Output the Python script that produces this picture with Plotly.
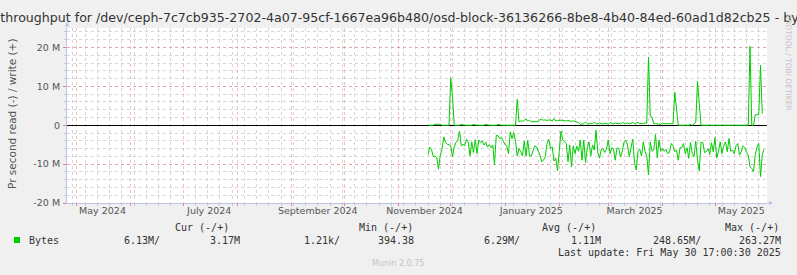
import plotly.graph_objects as go
import pandas as pd

# ---- data (values in MB/s, read shown negative, write positive) ----
start_day = "2024-11-18"

read_mb = [
    7.5, 5.6, 6.2, 8.1, 7.9, 8.4, 11.3, 7.7, 6.2, 3.0,
    4.4, 4.9, 5.0, 5.3, 8.1, 5.6, 4.4, 3.8, 1.5, 5.3,
    4.9, 5.3, 3.6, 4.4, 7.9, 4.3, 7.0, 3.7, 7.3, 3.8,
    4.4, 4.1, 5.1, 4.4, 5.6, 5.0, 5.8, 5.1, 10.1, 2.6,
    2.7, 3.4, 3.2, 4.1, 5.0, 5.3, 7.3, 1.7, 3.4, 1.9,
    4.1, 7.9, 6.0, 6.8, 7.9, 4.1, 7.9, 3.9, 7.9, 7.9,
    6.7, 5.3, 5.6, 6.7,
    7.7, 9.4, 9.0, 8.1, 4.7, 3.6, 6.0, 5.6, 9.2, 8.5,
    11.7, 6.8, 1.5, 3.8, 4.3, 4.7, 9.4, 5.1, 10.7, 5.3,
    7.3, 5.4, 6.7, 3.8, 9.0, 3.8, 9.6, 5.8, 4.3, 7.9,
    5.1, 6.4, 1.3, 7.0, 8.5, 6.2, 6.0, 7.0, 6.2, 3.8,
    7.3, 5.8, 6.2, 9.0, 5.8, 6.0, 8.1, 6.8, 4.3, 3.8,
    5.1, 8.1, 5.8, 3.6, 9.6, 11.5, 6.7, 6.2, 7.9, 4.3,
    6.7, 7.9, 12.8, 4.3, 6.7,
    6.4, 2.4, 8.4, 3.8, 6.7, 6.0, 6.7, 6.2, 7.3, 7.0,
    4.7, 5.3, 6.8, 6.4, 9.0, 5.8, 5.8, 4.7, 7.3, 5.8,
    8.5, 4.4, 7.3, 8.1, 4.1, 9.0, 11.7, 4.4, 4.4, 7.0,
    6.8, 6.0, 7.5, 4.5, 6.8, 3.2, 8.4, 6.7, 4.3, 7.3,
    5.3, 4.3, 6.8, 3.4, 6.7, 6.4, 7.3, 5.3, 4.7, 7.7,
    6.8, 5.3, 5.8, 7.0, 7.7, 10.7, 11.1, 12.0, 7.7, 5.6,
    4.7, 13.2, 7.7, 6.2,
]

write_mb = [
    0, 0, 0, 0, 0.25, 0.25, 0.25, 0.25, 0, 0,
    0, 0, 0, 12.1, 7.3, 0, 0, 0, 0, 0.2,
    0, 0, 0, 0, 0, 0, 0.2, 0, 0, 0,
    0, 0, 0, 0.2, 0, 0, 0, 0, 0, 0,
    0.2, 0, 0, 0, 0, 0, 0, 0, 0, 0,
    0, 6.7, 0.9, 1.1, 1.0, 1.3, 1.5, 1.1, 1.3, 0.9,
    0.9, 0.9, 0.9, 0.9,
    1.5, 1.3, 1.3, 1.4, 1.2, 1.4, 1.2, 1.1, 1.7, 1.1,
    1.2, 1.3, 1.3, 1.2, 1.1, 1.1, 1.2, 1.1, 1.0, 1.1,
    0.9, 0.8, 0.7,
    0.2, 0.3, 0.4, 0.8, 0.4, 0.3, 0.5, 0.4, 0.8, 0.4,
    0.3, 0.6, 0.4, 0.3, 0.5, 0.4, 0.3, 0.7, 0.4, 0.3,
    0.6, 0.4, 0.5, 0.3, 0.7, 0.5, 0.4, 0.6, 0.3, 0.5,
    0.7, 0.4, 0.5, 0.8, 0.4, 0.5, 0.4, 0.6, 0.5,
    17.5, 2.4, 2.1,
    0.4, 0.4, 0.4, 0.3, 0.2, 0.6, 0.4, 0.4, 0.4, 0.4,
    0.4, 0.4, 8.5, 4.4, 0, 0, 0, 0, 0, 0,
    0, 0.2, 0, 0.3, 0.8, 11.3, 5.1, 0, 0, 0,
    0, 0, 0, 0, 0, 0, 0, 0, 0, 0,
    0, 0, 0, 0, 0, 0, 0, 0, 0, 0,
    0, 0, 0, 0, 0, 20.3, 0, 0, 2.7, 2.7,
    2.7, 15.4, 3.0,
]

x_range = ["2024-04-25 17:00", "2025-05-30 17:00"]
y_range = [-20e6, 25e6]
y_tick_vals = [-20e6, -10e6, 0, 10e6, 20e6]
y_tick_text = ["-20 M", "-10 M", "0", "10 M", "20 M"]
x_label_vals = ["2024-05-16", "2024-07-16", "2024-09-16", "2024-11-16",
                "2025-01-16", "2025-03-16", "2025-05-16"]
x_label_text = ["May 2024", "July 2024", "September 2024", "November 2024",
                "January 2025", "March 2025", "May 2025"]

title = ("Disk throughput for /dev/ceph-7c7cb935-2702-4a07-95cf-1667ea96b480/"
         "osd-block-36136266-8be8-4b40-84ed-60ad1d82cb25 - by year")
y_title = "Pr second read (-) / write (+)"
headers = ["Cur (-/+)", "Min (-/+)", "Avg (-/+)", "Max (-/+)"]
values = ["6.13M/", "3.17M", "1.21k/", "394.38", "6.29M/", "1.11M", "248.65M/", "263.27M"]
series_name = "Bytes"
last_update = "Last update: Fri May 30 17:00:30 2025"
version = "Munin 2.0.75"
credit = "RRDTOOL / TOBI OETIKER"

GREEN = "#00cc00"
AXIS = "#c0c0ec"
RED_GRID = "rgba(235,110,110,0.45)"
GREY_GRID = "#d6d6d6"
W, H = 797, 275
L, R, T, B = 67, 30, 28, 72
PW, PH = W - L - R, H - T - B

dates = pd.date_range(start=start_day, periods=len(read_mb), freq="D")

fig = go.Figure()
fig.add_trace(go.Scatter(x=dates, y=[-v * 1e6 for v in read_mb], mode="lines",
                         line=dict(color=GREEN, width=1), name=series_name, showlegend=False))
fig.add_trace(go.Scatter(x=dates, y=[v * 1e6 for v in write_mb], mode="lines",
                         line=dict(color=GREEN, width=1), name=series_name, showlegend=False))
# invisible carrier trace so the label axis (x2) is drawn
fig.add_trace(go.Scatter(x=x_label_vals, y=[None] * len(x_label_vals), xaxis="x2",
                         mode="markers", marker=dict(opacity=0), showlegend=False,
                         hoverinfo="skip"))


def px(x):
    return (x - L) / PW


def py(y):
    return (H - B - y) / PH


annotations = []
mono = dict(family="DejaVu Sans Mono", size=10, color="#333333")
header_left = [173, 357, 540, 723]
for h, xl in zip(headers, header_left):
    annotations.append(dict(x=px(xl), y=py(227), xref="paper", yref="paper", text=h,
                            showarrow=False, xanchor="left", yanchor="middle", font=mono))
value_right = [162, 242, 342, 416, 522, 603, 703, 783]
for v, xr in zip(values, value_right):
    annotations.append(dict(x=px(xr), y=py(240), xref="paper", yref="paper", text=v,
                            showarrow=False, xanchor="right", yanchor="middle", font=mono))
annotations.append(dict(x=px(27), y=py(240), xref="paper", yref="paper", text=series_name,
                        showarrow=False, xanchor="left", yanchor="middle", font=mono))
annotations.append(dict(x=px(783), y=py(252), xref="paper", yref="paper", text=last_update,
                        showarrow=False, xanchor="right", yanchor="middle", font=mono))
annotations.append(dict(x=px(398), y=py(263), xref="paper", yref="paper", text=version,
                        showarrow=False, xanchor="center", yanchor="middle",
                        font=dict(family="DejaVu Sans", size=8, color="#c4c4c4")))
annotations.append(dict(x=px(789), y=py(62), xref="paper", yref="paper", text=credit,
                        showarrow=False, xanchor="center", yanchor="middle", textangle=90,
                        font=dict(family="DejaVu Sans", size=7.5, color="#c4c4c4")))
annotations.append(dict(x=px(12), y=py(114), xref="paper", yref="paper", text=y_title,
                        showarrow=False, xanchor="center", yanchor="middle", textangle=-90,
                        font=dict(family="DejaVu Sans", size=10.5, color="#555555")))
# axis arrow heads
annotations.append(dict(x=px(773), y=0, xref="paper", yref="paper", text="",
                        showarrow=True, arrowhead=2, arrowsize=0.8, arrowwidth=1,
                        arrowcolor=AXIS, ax=-7, ay=0))
annotations.append(dict(x=0, y=py(22), xref="paper", yref="paper", text="",
                        showarrow=True, arrowhead=2, arrowsize=0.8, arrowwidth=1,
                        arrowcolor=AXIS, ax=0, ay=7))

shapes = [dict(type="rect", xref="paper", yref="paper", x0=px(14), x1=px(20),
               y0=py(243), y1=py(237), fillcolor=GREEN, line=dict(width=0))]

fig.update_layout(
    width=W, height=H,
    margin=dict(l=L, r=R, t=T, b=B, pad=0),
    paper_bgcolor="#f0f0f0", plot_bgcolor="white",
    showlegend=False,
    title=dict(text=title, x=0.5 + 1.5 / W, xref="container", xanchor="center",
               y=1 - 18 / H, yref="container", yanchor="middle",
               font=dict(family="DejaVu Sans", size=12.6, color="#333333")),
    xaxis=dict(type="date", range=x_range, tick0="2024-05-01", dtick="M1",
               showticklabels=False, showgrid=True, gridcolor=RED_GRID,
               griddash="dot", gridwidth=1, ticks="outside", ticklen=2,
               tickcolor="rgba(235,100,100,0.8)",
               showline=True, linecolor=AXIS, linewidth=1, zeroline=False,
               minor=dict(tick0="2024-05-06", dtick=7 * 86400000, showgrid=True,
                          gridcolor=GREY_GRID, griddash="dot", gridwidth=1,
                          ticks="outside", ticklen=2, tickcolor="#cccccc")),
    xaxis2=dict(type="date", range=x_range, overlaying="x", anchor="y", side="bottom",
                tickmode="array", tickvals=x_label_vals, ticktext=x_label_text,
                showgrid=False, zeroline=False, showline=False, ticks="",
                tickfont=dict(family="DejaVu Sans", size=9.5, color="#555555")),
    yaxis=dict(range=y_range, tickmode="array", tickvals=y_tick_vals, ticktext=y_tick_text,
               showgrid=True, gridcolor=RED_GRID, griddash="dot", gridwidth=1,
               zeroline=True, zerolinecolor="#000000", zerolinewidth=1,
               showline=True, linecolor=AXIS, linewidth=1,
               ticks="outside", ticklen=3, tickcolor="rgba(235,100,100,0.8)",
               ticklabelstandoff=1,
               tickfont=dict(family="DejaVu Sans", size=9.5, color="#555555"),
               minor=dict(dtick=2e6, showgrid=True, gridcolor=GREY_GRID, griddash="dot",
                          gridwidth=1, ticks="outside", ticklen=2, tickcolor="#cccccc")),
    annotations=annotations,
    shapes=shapes,
)

fig.write_html("out.html")
